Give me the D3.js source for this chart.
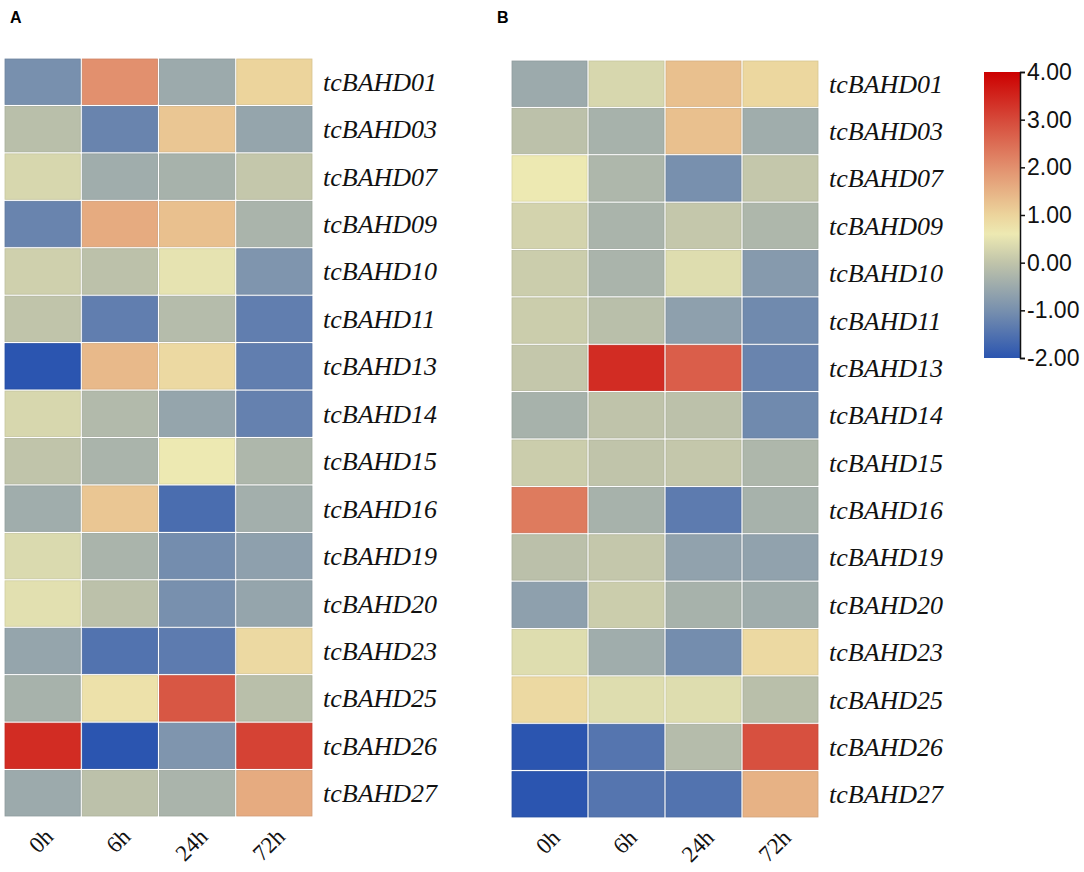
<!DOCTYPE html>
<html>
<head>
<meta charset="utf-8">
<script src="https://cdn.jsdelivr.net/npm/d3@7"></script>
<style>
  body { margin: 0; background: #fff; }
  svg { display: block; }
</style>
</head>
<body>
<div id="chart"></div>
<script>
// genes (rows) and time points (columns)
const genes = ["tcBAHD01", "tcBAHD03", "tcBAHD07", "tcBAHD09", "tcBAHD10", "tcBAHD11",
  "tcBAHD13", "tcBAHD14", "tcBAHD15", "tcBAHD16", "tcBAHD19", "tcBAHD20",
  "tcBAHD23", "tcBAHD25", "tcBAHD26", "tcBAHD27"];
const times = ["0h", "6h", "24h", "72h"];

// panel A values, one row per gene: 0h, 6h, 24h, 72h
const valuesA = [
  [-1.0, 2.0, -0.5, 1.0],
  [-0.1, -1.2, 1.2, -0.6],
  [0.3, -0.45, -0.35, 0.05],
  [-1.2, 1.6, 1.3, -0.3],
  [0.2, -0.05, 0.5, -0.9],
  [0.0, -1.3, -0.15, -1.3],
  [-2.0, 1.4, 0.9, -1.3],
  [0.3, -0.2, -0.6, -1.25],
  [0.0, -0.3, 0.6, -0.25],
  [-0.45, 1.2, -1.6, -0.4],
  [0.35, -0.3, -1.05, -0.7],
  [0.45, -0.05, -1.0, -0.6],
  [-0.6, -1.5, -1.35, 0.9],
  [-0.35, 0.75, 2.8, -0.1],
  [3.4, -2.0, -0.9, 3.1],
  [-0.5, -0.05, -0.3, 1.6]
];

// panel B values
const valuesB = [
  [-0.5, 0.3, 1.3, 0.95],
  [-0.05, -0.35, 1.3, -0.45],
  [0.6, -0.25, -1.0, 0.05],
  [0.25, -0.3, 0.05, -0.25],
  [0.15, -0.3, 0.4, -0.8],
  [0.15, -0.1, -0.7, -1.1],
  [0.05, 3.4, 2.7, -1.2],
  [-0.35, -0.02, -0.05, -1.1],
  [0.15, 0.0, 0.05, -0.25],
  [2.3, -0.35, -1.35, -0.35],
  [-0.07, 0.05, -0.65, -0.65],
  [-0.7, 0.15, -0.35, -0.45],
  [0.4, -0.45, -1.05, 0.9],
  [0.9, 0.4, 0.4, -0.1],
  [-2.0, -1.45, -0.15, 2.9],
  [-2.0, -1.45, -1.5, 1.5]
];

// colour bar ticks
const legendTicks = [4, 3, 2, 1, 0, -1, -2];

const svg = d3.select("#chart")
  .append("svg")
  .attr("width", 1084)
  .attr("height", 872);

const color = d3.scaleLinear()
  .domain([-2, -1, 0, 0.6, 1, 2, 3, 4])
  .range(["#2b55b0", "#7890ae", "#c0c4aa", "#ede9b2", "#ecd49c", "#e2906e", "#d6493a", "#cc0000"])
  .interpolate(d3.interpolateRgb)
  .clamp(true);

function drawPanel(letter, values, left, top, right, bottom, letterX) {
  const g = svg.append("g");

  const x = d3.scaleBand().domain(times).range([left, right]);
  const y = d3.scaleBand().domain(genes).range([top, bottom]);

  const cells = [];
  values.forEach((row, i) => row.forEach((v, j) => cells.push({ gene: genes[i], time: times[j], v })));

  g.selectAll("rect.cell")
    .data(cells)
    .join("rect")
    .attr("class", "cell")
    .attr("x", d => x(d.time) + 1)
    .attr("y", d => y(d.gene) + 1)
    .attr("width", x.bandwidth() - 2)
    .attr("height", y.bandwidth() - 2)
    .attr("fill", d => color(d.v))
    .attr("stroke", d => d3.color(color(d.v)).darker(0.25))
    .attr("stroke-width", 0.8);

  // gene names on the right
  g.selectAll("text.gene")
    .data(genes)
    .join("text")
    .attr("class", "gene")
    .attr("x", right + 10)
    .attr("y", d => y(d) + y.bandwidth() / 2 + 9)
    .attr("font-family", "'Liberation Serif', 'Times New Roman', serif")
    .attr("font-style", "italic")
    .attr("font-size", 26)
    .attr("fill", "#111")
    .text(d => d);

  // rotated time labels
  g.selectAll("text.time")
    .data(times)
    .join("text")
    .attr("class", "time")
    .attr("text-anchor", "end")
    .attr("transform", d => `translate(${x(d) + x.bandwidth() / 2 + 12},${bottom + 21}) rotate(-45)`)
    .attr("font-family", "'Liberation Serif', 'Times New Roman', serif")
    .attr("font-size", 23)
    .attr("fill", "#111")
    .text(d => d);

  svg.append("text")
    .attr("x", letterX)
    .attr("y", 23)
    .attr("font-family", "'Liberation Sans', Arial, sans-serif")
    .attr("font-weight", "bold")
    .attr("font-size", 16)
    .text(letter);
}

drawPanel("A", valuesA, 4, 58, 313, 817, 10);
drawPanel("B", valuesB, 511, 60, 819, 818, 497);

// colour legend
const legTop = 72, legBottom = 358, legLeft = 984, legRight = 1020;
const legScale = d3.scaleLinear().domain([4, -2]).range([legTop, legBottom]);

const grad = svg.append("defs").append("linearGradient")
  .attr("id", "legGrad")
  .attr("x1", 0).attr("y1", 0).attr("x2", 0).attr("y2", 1);
grad.selectAll("stop")
  .data(color.domain().slice().reverse())
  .join("stop")
  .attr("offset", d => (legScale(d) - legTop) / (legBottom - legTop))
  .attr("stop-color", d => color(d));

svg.append("rect")
  .attr("x", legLeft)
  .attr("y", legTop)
  .attr("width", legRight - legLeft)
  .attr("height", legBottom - legTop)
  .attr("fill", "url(#legGrad)");

const legAxis = svg.append("g")
  .attr("transform", `translate(${legRight},0)`)
  .call(d3.axisRight(legScale)
    .tickValues(legendTicks)
    .tickSize(5)
    .tickSizeOuter(5)
    .tickFormat(d => d3.format(".2f")(d).replace("\u2212", "-")));
legAxis.selectAll("text")
  .attr("font-family", "'Liberation Sans', Arial, sans-serif")
  .attr("font-size", 23)
  .attr("fill", "#111")
  .attr("x", 7);
legAxis.selectAll("line, path").attr("stroke", "#111").attr("stroke-width", 1.5);
</script>
</body>
</html>
